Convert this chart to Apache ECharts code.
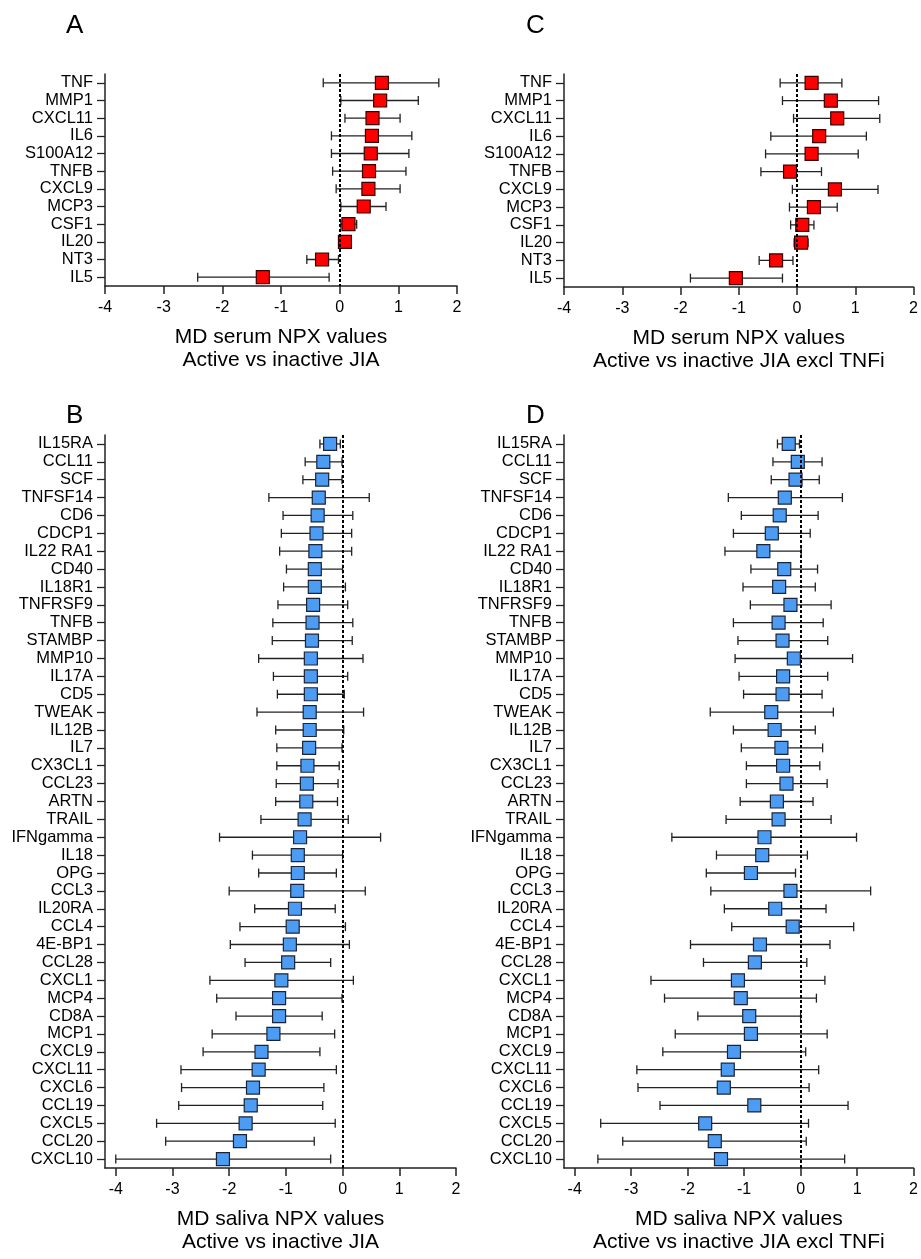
<!DOCTYPE html>
<html><head><meta charset="utf-8">
<script src="https://cdn.jsdelivr.net/npm/echarts@6/dist/echarts.min.js"></script>
<style>html,body{margin:0;padding:0;background:#fff}#c{width:921px;height:1259px}</style>
</head><body><div id="c"></div>
<script>
// ---- tick labels ----
const xTicks = [-4, -3, -2, -1, 0, 1, 2];

// ---- serum panels (A, C) ----
const serumCats = ['TNF','MMP1','CXCL11','IL6','S100A12','TNFB','CXCL9','MCP3','CSF1','IL20','NT3','IL5'];
const serumA_md = [0.72, 0.69, 0.56, 0.55, 0.53, 0.50, 0.49, 0.41, 0.15, 0.09, -0.30, -1.31];
const serumA_lo = [-0.28, 0.02, 0.09, -0.14, -0.14, -0.12, -0.06, 0.02, 0.02, 0.03, -0.56, -2.42];
const serumA_hi = [1.69, 1.34, 1.03, 1.23, 1.18, 1.13, 1.03, 0.79, 0.29, 0.16, -0.02, -0.18];
const serumC_md = [0.25, 0.58, 0.69, 0.38, 0.25, -0.12, 0.65, 0.29, 0.09, 0.07, -0.36, -1.05];
const serumC_lo = [-0.29, -0.25, -0.06, -0.45, -0.54, -0.62, -0.08, -0.13, -0.11, -0.05, -0.65, -1.83];
const serumC_hi = [0.77, 1.40, 1.42, 1.19, 1.05, 0.42, 1.39, 0.69, 0.29, 0.19, -0.07, -0.25];

// ---- saliva panels (B, D) ----
const salivaCats = ['IL15RA','CCL11','SCF','TNFSF14','CD6','CDCP1','IL22 RA1','CD40','IL18R1','TNFRSF9','TNFB','STAMBP','MMP10','IL17A','CD5','TWEAK','IL12B','IL7','CX3CL1','CCL23','ARTN','TRAIL','IFNgamma','IL18','OPG','CCL3','IL20RA','CCL4','4E-BP1','CCL28','CXCL1','MCP4','CD8A','MCP1','CXCL9','CXCL11','CXCL6','CCL19','CXCL5','CCL20','CXCL10'];
const salivaB_md = [-0.22,-0.34,-0.36,-0.42,-0.44,-0.46,-0.48,-0.49,-0.49,-0.52,-0.53,-0.54,-0.56,-0.56,-0.56,-0.58,-0.58,-0.59,-0.62,-0.63,-0.64,-0.67,-0.75,-0.79,-0.79,-0.80,-0.84,-0.88,-0.93,-0.96,-1.08,-1.12,-1.12,-1.22,-1.43,-1.48,-1.58,-1.62,-1.71,-1.81,-2.11];
const salivaB_lo = [-0.40,-0.66,-0.70,-1.30,-1.05,-1.08,-1.11,-0.99,-1.04,-1.14,-1.23,-1.24,-1.48,-1.22,-1.15,-1.51,-1.18,-1.16,-1.16,-1.17,-1.18,-1.44,-2.17,-1.59,-1.48,-2.00,-1.55,-1.81,-1.98,-1.72,-2.34,-2.22,-1.88,-2.30,-2.46,-2.85,-2.84,-2.89,-3.28,-3.12,-4.00];
const salivaB_hi = [-0.04,-0.01,-0.01,0.47,0.18,0.16,0.16,0.00,0.05,0.09,0.18,0.17,0.36,0.09,0.03,0.37,0.02,-0.01,-0.06,-0.08,-0.09,0.10,0.67,0.00,-0.11,0.40,-0.13,0.05,0.12,-0.21,0.19,-0.01,-0.36,-0.14,-0.40,-0.11,-0.33,-0.35,-0.13,-0.50,-0.21];
const salivaD_md = [-0.21,-0.05,-0.09,-0.28,-0.37,-0.51,-0.66,-0.29,-0.38,-0.18,-0.39,-0.32,-0.12,-0.31,-0.32,-0.52,-0.46,-0.34,-0.31,-0.25,-0.42,-0.39,-0.64,-0.68,-0.88,-0.18,-0.45,-0.14,-0.72,-0.81,-1.11,-1.06,-0.91,-0.88,-1.18,-1.29,-1.36,-0.82,-1.69,-1.52,-1.41];
const salivaD_lo = [-0.41,-0.49,-0.52,-1.28,-1.05,-1.19,-1.34,-0.88,-1.02,-0.89,-1.19,-1.11,-1.16,-1.09,-1.01,-1.60,-1.19,-1.05,-0.96,-0.96,-1.07,-1.32,-2.28,-1.49,-1.67,-1.59,-1.35,-1.22,-1.95,-1.72,-2.65,-2.41,-1.82,-2.22,-2.44,-2.90,-2.88,-2.49,-3.54,-3.15,-3.59];
const salivaD_hi = [-0.02,0.38,0.33,0.74,0.31,0.17,0.01,0.30,0.26,0.54,0.40,0.48,0.92,0.48,0.38,0.58,0.26,0.39,0.34,0.47,0.22,0.54,0.99,0.12,-0.09,1.24,0.45,0.94,0.52,0.11,0.43,0.28,0.00,0.47,0.09,0.32,0.15,0.84,0.14,0.10,0.78];

const FONT = '"Liberation Sans", Arial, sans-serif';
const RED = '#FF0000';
const BLUE = '#4D9CF4';

function errRender(params, api) {
  const a = api.coord([api.value(0), api.value(2)]);
  const b = api.coord([api.value(1), api.value(2)]);
  const c = 4.5;
  const st = { stroke: '#222', lineWidth: 1.3, fill: null };
  return { type: 'group', children: [
    { type: 'line', shape: { x1: a[0], y1: a[1], x2: b[0], y2: b[1] }, style: st },
    { type: 'line', shape: { x1: a[0], y1: a[1] - c, x2: a[0], y2: a[1] + c }, style: st },
    { type: 'line', shape: { x1: b[0], y1: b[1] - c, x2: b[0], y2: b[1] + c }, style: st }
  ]};
}

const panels = [
  { cats: serumCats, md: serumA_md, lo: serumA_lo, hi: serumA_hi, color: RED, border: '#3a0000',
    grid: { left: 105, top: 74, width: 352, height: 212 }, min: -4,
    name: 'MD serum NPX values\nActive vs inactive JIA' },
  { cats: serumCats, md: serumC_md, lo: serumC_lo, hi: serumC_hi, color: RED, border: '#3a0000',
    grid: { left: 564, top: 74, width: 351, height: 213 }, min: -4,
    name: 'MD serum NPX values\nActive vs inactive JIA excl TNFi' },
  { cats: salivaCats, md: salivaB_md, lo: salivaB_lo, hi: salivaB_hi, color: BLUE, border: '#1a2438',
    grid: { left: 105, top: 435, width: 351, height: 738 }, min: -4.19,
    name: 'MD saliva NPX values\nActive vs inactive JIA' },
  { cats: salivaCats, md: salivaD_md, lo: salivaD_lo, hi: salivaD_hi, color: BLUE, border: '#1a2438',
    grid: { left: 564, top: 435, width: 351, height: 738 }, min: -4.19,
    name: 'MD saliva NPX values\nActive vs inactive JIA excl TNFi' }
];

const option = {
  animation: false,
  backgroundColor: '#fff',
  textStyle: { fontFamily: FONT },
  graphic: [
    { type: 'text', left: 66, top: 13, style: { text: 'A', fontSize: 26, fontFamily: FONT, fill: '#000' } },
    { type: 'text', left: 526, top: 13, style: { text: 'C', fontSize: 26, fontFamily: FONT, fill: '#000' } },
    { type: 'text', left: 66, top: 403, style: { text: 'B', fontSize: 26, fontFamily: FONT, fill: '#000' } },
    { type: 'text', left: 526, top: 403, style: { text: 'D', fontSize: 26, fontFamily: FONT, fill: '#000' } }
  ],
  grid: [], xAxis: [], yAxis: [], series: []
};

panels.forEach((p, k) => {
  option.grid.push(Object.assign({ containLabel: false }, p.grid));
  option.xAxis.push({
    type: 'value', gridIndex: k, min: p.min, max: 2,
    name: p.name, nameLocation: 'middle', nameGap: 40,
    nameTextStyle: { fontSize: 21, color: '#000', fontFamily: FONT, lineHeight: 23 },
    axisLine: { show: true, onZero: false, lineStyle: { color: '#222', width: 1.5 } },
    axisTick: { show: true, length: 8, customValues: xTicks, lineStyle: { color: '#222', width: 1.5 } },
    axisLabel: { customValues: xTicks, fontSize: 16, color: '#000', margin: 14, fontFamily: FONT },
    splitLine: { show: false }
  });
  option.yAxis.push({
    type: 'category', gridIndex: k, data: p.cats, inverse: true,
    axisLine: { show: true, onZero: false, lineStyle: { color: '#222', width: 1.5 } },
    axisTick: { show: true, alignWithLabel: true, length: 8, lineStyle: { color: '#222', width: 1.3 } },
    axisLabel: { fontSize: 16.5, color: '#000', margin: 12, fontFamily: FONT, interval: 0 },
    splitLine: { show: false }
  });
  option.series.push({
    type: 'custom', xAxisIndex: k, yAxisIndex: k, z: 2,
    renderItem: errRender, encode: { x: [0, 1], y: 2 },
    data: p.lo.map((v, i) => [v, p.hi[i], i])
  });
  option.series.push({
    type: 'scatter', xAxisIndex: k, yAxisIndex: k, z: 3, data: [], silent: true,
    markLine: { silent: true, symbol: ['none', 'none'], label: { show: false },
      lineStyle: { color: '#000', width: 2, type: [3, 2] }, data: [{ xAxis: 0 }] }
  });
  option.series.push({
    type: 'scatter', xAxisIndex: k, yAxisIndex: k, z: 4,
    symbol: 'rect', symbolSize: 13,
    itemStyle: { color: p.color, borderColor: p.border, borderWidth: 1.2, opacity: 1 },
    data: p.md.map((v, i) => [v, i])
  });
});

const chart = echarts.init(document.getElementById('c'), null, { renderer: 'canvas' });
chart.setOption(option);
</script>
</body></html>
